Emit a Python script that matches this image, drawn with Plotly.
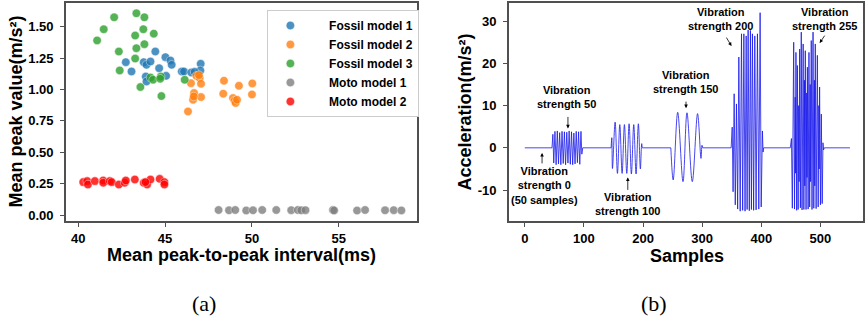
import plotly.graph_objects as go

# ---------------- Panel (a) data ----------------
fossil1_x = [42.74, 43.07, 43.77, 43.93, 44.16, 44.44, 44.66, 45.02, 45.31, 45.38, 45.06, 43.89, 43.93,
             45.96, 46.09, 46.51, 47.05, 47.03, 46.70]
fossil1_y = [1.217, 1.143, 1.217, 1.196, 1.222, 1.302, 1.169, 1.257, 1.230, 1.196, 1.108, 1.103, 1.063,
             1.143, 1.143, 1.135, 1.204, 1.151, 1.140]

fossil2_x = [46.32, 46.49, 46.80, 46.99, 47.07, 46.67, 46.61, 47.07, 46.95, 48.39, 48.35, 49.25, 48.91,
             49.00, 49.06, 49.14, 50.02, 50.00, 46.65]
fossil2_y = [0.825, 1.050, 1.108, 1.090, 1.045, 0.971, 0.918, 0.939, 1.114, 1.069, 0.966, 1.029, 0.931,
             0.910, 0.892, 0.918, 1.048, 0.960, 0.944]

fossil3_x = [41.09, 41.47, 42.07, 43.35, 43.81, 43.28, 43.75, 44.35, 42.34, 43.35, 43.81, 43.28, 42.39,
             43.58, 44.16, 44.75, 44.79, 46.13, 44.31, 44.72]
fossil3_y = [1.390, 1.479, 1.574, 1.606, 1.574, 1.429, 1.479, 1.444, 1.302, 1.328, 1.360, 1.246, 1.151,
             1.019, 1.095, 1.103, 0.947, 1.077, 1.077, 1.085]

moto1_x = [48.08, 48.68, 49.04, 49.67, 50.06, 50.59, 51.40, 52.26, 52.64, 52.84, 53.08, 54.66, 54.73,
           56.05, 56.51, 57.66, 58.16, 58.60]
moto1_y = [0.040, 0.038, 0.040, 0.037, 0.038, 0.040, 0.040, 0.039, 0.040, 0.038, 0.039, 0.040, 0.037,
           0.036, 0.040, 0.038, 0.039, 0.037]

moto2_x = [40.29, 40.52, 40.56, 40.96, 41.44, 41.44, 41.82, 41.93, 42.34, 42.68, 42.74, 43.26, 43.77,
           43.97, 44.16, 44.69, 44.96, 44.96, 43.87]
moto2_y = [0.262, 0.270, 0.243, 0.270, 0.275, 0.257, 0.270, 0.262, 0.243, 0.257, 0.275, 0.283, 0.257,
           0.243, 0.283, 0.288, 0.262, 0.243, 0.262]

a_xticks = [40, 45, 50, 55]
a_yticks = [0.0, 0.25, 0.5, 0.75, 1.0, 1.25, 1.5]

# ---------------- Panel (b) data (waveform vertices) ----------------
rest0_x = [0, 46]
rest0_y = [0, 0]
burst50_x = [47.5, 49, 51, 53, 55, 57, 59, 61, 63, 65, 67, 69, 71, 73, 75, 77, 79, 81, 83, 85, 87, 89,
             91, 93, 95, 96.5, 98, 146]
burst50_y = [3.2, -3.6, 3.9, -4.0, 4.0, -3.8, 3.6, -4.0, 3.9, -3.7, 3.8, -4.0, 3.7, -3.6, 4.0, -3.9,
             3.8, -4.0, 3.5, -3.8, 3.9, -3.5, 3.8, -3.9, 3.9, -1.5, 0, 0]

burst100_x = [146, 147.2, 148.3, 152.8, 156.7, 160.7, 164.6, 168.5, 172.5, 176.4, 180.3, 184.3, 188.2,
              192.1, 195.5, 197.8, 199, 200]
burst100_y = [0, 2.4, -4.9, 6.1, -6.05, 5.5, -6.05, 5.5, -6.05, 5.7, -6.2, 5.5, -6.2, 5.7, -5.0, 1.0,
              0, 0]

rest100_x = [200, 247]
rest100_y = [0, 0]

burst150_x = [247, 251, 258.6, 267.6, 274.3, 283.3, 292.2, 298, 299.7, 301]
burst150_y = [0, -7.6, 8.4, -8.0, 8.3, -8.0, 8.1, -2.5, 0.6, 0]

rest150_x = [301, 349]
rest150_y = [0, 0]

burst200_x = [350.8, 352.3, 354.1, 356, 358, 360, 362, 364.3, 366.5, 368.5, 370.5, 372.5, 374.4, 376,
              377.7, 379.7, 381.6, 383.3, 385, 387, 389, 391.2, 393.5, 395.8, 398, 399.8, 401.9, 403, 404,
              449]
burst200_y = [4.9, -10.4, 12.8, -13.5, 10.4, -14.5, 21.5, -15.0, 27.0, -14.8, 27.0, -15.0, 26.5, -14.6,
              27.9, -14.9, 27.8, -14.6, 27.0, -14.8, 26.5, -14.7, 27.0, -14.5, 32.0, -14.0, 4.0, -1.0, 0,
              0]

burst255_x = [451, 452.5, 454.8, 456.2, 457.3, 458.0, 458.6, 459.8, 461.0, 462.3, 463.3, 464.0, 464.9,
              466.1, 467.6, 468.9, 469.7, 470.2, 470.8, 472.0, 473.0, 473.6, 474.4, 475.7, 476.8, 477.3,
              477.9, 479.2, 480.6, 481.8, 482.7, 483.4, 484.5, 485.8, 486.6, 487.0, 487.5, 488.8, 489.8,
              490.4, 491.3, 492.7, 493.7, 494.2, 494.8, 496.2, 497.3, 497.9, 498.6, 500.0, 501.5, 503.0,
              504.3, 505.3, 506.5, 550]
burst255_y = [2.2, -14.3, 25.0, -14.5, 12.0, -6.0, 22.6, -14.8, 19.5, -14.6, 10.0, -8.0, 23.4, -14.2,
              27.4, -14.7, 14.0, -6.0, 24.6, -14.6, 16.0, -9.0, 23.0, -14.6, 13.0, -7.0, 19.1, -14.5,
              22.6, -14.0, 15.0, -8.0, 25.4, -14.6, 12.0, -5.0, 27.4, -14.3, 16.0, -9.0, 24.6, -14.4,
              12.0, -6.0, 21.9, -14.0, 10.0, -5.0, 14.4, -13.5, 8.0, -13.2, 1.2, -0.5, 0, 0]

b_xticks = [0, 100, 200, 300, 400, 500]
b_yticks = [-10, 0, 10, 20, 30]

# annotation labels (text, text position, arrow head, arrow tail offset px)
b_labels = [
    ("Vibration<br>strength 0<br>(50 samples)", 33.2, -9.0, 29.2, -1.2, 0, 12),
    ("Vibration<br>strength 50", 71.3, 12.0, 73.0, 4.6, 0, -13),
    ("Vibration<br>strength 100", 174.2, -13.3, 174.2, -7.0, 0, 14),
    ("Vibration<br>strength 150", 271.5, 15.6, 272.7, 9.4, 0, -8),
    ("Vibration<br>strength 200", 330.5, 30.4, 349.6, 24.1, -6, -10),
    ("Vibration<br>strength 255", 507.0, 30.4, 498.7, 24.8, 6, -9),
]

FONT = "Liberation Sans, Arial, sans-serif"
AXC = "#505050"
PAD = "\u00a0\u00a0\u00a0\u00a0\u00a0"

fig = go.Figure()

series = [
    ("Fossil model 1", fossil1_x, fossil1_y, "#1f77b4"),
    ("Fossil model 2", fossil2_x, fossil2_y, "#ff7f0e"),
    ("Fossil model 3", fossil3_x, fossil3_y, "#2ca02c"),
    ("Moto model 1", moto1_x, moto1_y, "#7f7f7f"),
    ("Moto model 2", moto2_x, moto2_y, "#ff0000"),
]
for name, xs, ys, col in series:
    fig.add_trace(go.Scatter(
        x=xs, y=ys, mode="markers", name=PAD + "<b>" + name + "</b>",
        marker=dict(color=col, size=8.5, opacity=0.8, line=dict(color="white", width=0.5)),
        xaxis="x", yaxis="y"))

# waveform: linear parts
lin_x = rest0_x + burst50_x + [None] + rest100_x + [None] + rest150_x + burst200_x + burst255_x
lin_y = rest0_y + burst50_y + [None] + rest100_y + [None] + rest150_y + burst200_y + burst255_y
fig.add_trace(go.Scatter(x=lin_x, y=lin_y, mode="lines", showlegend=False,
                         line=dict(color="rgba(25,25,235,0.8)", width=1),
                         connectgaps=False, xaxis="x2", yaxis="y2"))
sp_x = burst100_x + [None] + burst150_x
sp_y = burst100_y + [None] + burst150_y
fig.add_trace(go.Scatter(x=sp_x, y=sp_y, mode="lines", showlegend=False,
                         line=dict(color="rgba(25,25,235,0.8)", width=1, shape="spline", smoothing=1.0),
                         connectgaps=False, xaxis="x2", yaxis="y2"))

ydom = [1 - 222 / 324, 1 - 3 / 324]
axis_common = dict(showline=True, linecolor=AXC, linewidth=1.5, mirror=True, ticks="outside",
                   ticklen=4, tickwidth=1.2, tickcolor=AXC, showgrid=False, zeroline=False,
                   tickfont=dict(family=FONT, size=13, color="black"))

annotations = []
for text, tx, ty, hx, hy, axp, ayp in b_labels:
    annotations.append(dict(x=tx, y=ty, xref="x2", yref="y2", text="<b>" + text + "</b>",
                            showarrow=False, font=dict(family=FONT, size=11, color="black"),
                            xanchor="center", yanchor="middle"))
    annotations.append(dict(x=hx, y=hy, xref="x2", yref="y2", text="", showarrow=True,
                            ax=axp, ay=ayp, arrowhead=2, arrowsize=0.9, arrowwidth=0.8,
                            arrowcolor="black"))

def paper_ann(text, px, py, size, family=FONT, angle=0):
    return dict(x=px / 865, y=1 - py / 324, xref="paper", yref="paper", text=text,
                showarrow=False, textangle=angle, font=dict(family=family, size=size, color="black"),
                xanchor="center", yanchor="middle")

annotations += [
    paper_ann("<b>Mean peak-to-peak interval(ms)</b>", 242, 256, 18),
    paper_ann("<b>Mean peak value(m/s²)</b>", 16, 112, 18, angle=-90),
    paper_ann("<b>Samples</b>", 689, 257, 18),
    paper_ann("<b>Acceleration(m/s²)</b>", 466, 112, 18, angle=-90),
    paper_ann("(a)", 204, 304, 22, family="Liberation Serif, DejaVu Serif, serif"),
    paper_ann("(b)", 656, 304, 22, family="Liberation Serif, DejaVu Serif, serif"),
]

fig.update_layout(
    width=865, height=324,
    margin=dict(l=0, r=0, t=0, b=0),
    paper_bgcolor="white", plot_bgcolor="white",
    showlegend=True,
    legend=dict(x=268 / 865, y=1 - 10 / 324, xanchor="left", yanchor="top",
                bgcolor="white", bordercolor="#cccccc", borderwidth=1,
                font=dict(family=FONT, size=12, color="black"), itemwidth=34,
                tracegroupgap=0),
    xaxis=dict(domain=[66 / 865, 418 / 865], range=[39.29, 59.5], anchor="y",
               tickvals=a_xticks, ticktext=[f"<b>{v}</b>" for v in a_xticks], **axis_common),
    yaxis=dict(domain=ydom, range=[-0.05, 1.688], anchor="x", ticklabelstandoff=4,
               tickvals=a_yticks, ticktext=[f"<b>{v:.2f}</b>" for v in a_yticks], **axis_common),
    xaxis2=dict(domain=[510 / 865, 1.0], range=[-27, 572], anchor="y2",
                tickvals=b_xticks, ticktext=[f"<b>{v}</b>" for v in b_xticks], **axis_common),
    yaxis2=dict(domain=ydom, range=[-17.4, 34.3], anchor="x2", ticklabelstandoff=4,
                tickvals=b_yticks, ticktext=[f"<b>{v}</b>" for v in b_yticks], **axis_common),
    annotations=annotations,
)

fig.write_html("out.html", config={"displayModeBar": False},
               post_script="document.body.style.margin='0px';document.body.style.padding='0px';"
                           "document.body.style.overflow='hidden';")
